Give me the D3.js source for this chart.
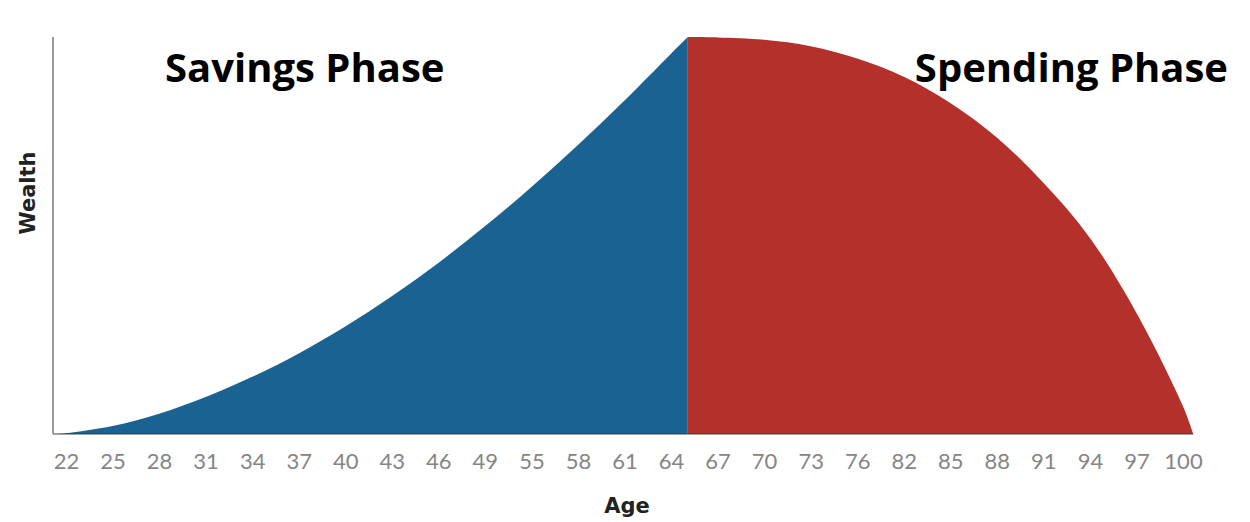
<!DOCTYPE html>
<html>
<head>
<meta charset="utf-8">
<script src="https://cdn.jsdelivr.net/npm/d3@7"></script>
<style>
  body { margin: 0; background: #fff; }
  svg { display: block; }
</style>
</head>
<body>
<svg id="drawing_region"></svg>
<script>
const ageLabels = ["22","25","28","31","34","37","40","43","46","49","55","58","61","64",
                   "67","70","73","76","82","85","88","91","94","97","100"];

// position along the age axis, in tick slots (0 = "22", 24 = "100")
const savingsPos    = [-0.28, 0, 1, 2, 3, 4, 5, 6, 7, 8, 9, 10, 11, 12, 13, 13.36];
const savingsWealth = [0, 0.2, 2.0, 5.1, 9.3, 14.4, 20.3, 27.1, 34.7, 43.1, 52.3, 62.2, 72.8, 84.0, 95.8, 100];

const spendingPos    = [13.36, 14, 15, 16, 17, 18, 19, 20, 21, 22, 23, 24, 24.22];
const spendingWealth = [100, 99.9, 99.3, 97.7, 94.6, 90.0, 83.4, 74.7, 63.3, 49.4, 30.5, 7, 0];

const phaseLabels = ["Savings Phase", "Spending Phase"];

const width = 1250;
const height = 522;
const margin = {top: 37, right: 57, bottom: 88, left: 53};

const svg = d3.select('#drawing_region')
    .attr('width', width)
    .attr('height', height);
const chart = svg.append('g')
    .attr('transform', `translate(${margin.left}, ${margin.top})`);

const inner_width = width - margin.left - margin.right;
const inner_height = height - margin.top - margin.bottom;

// slot scale: tick slot -> pixel
const xscale = d3.scaleLinear()
    .domain([0, ageLabels.length - 1])
    .range([13, 1130]);

const xlabels = d3.scalePoint()
    .domain(ageLabels)
    .range(xscale.range());

const yscale = d3.scaleLinear()
    .domain([0, 100])
    .range([inner_height, 0]);

const area = d3.area()
    .x(d => xscale(d.pos))
    .y0(yscale(0))
    .y1(d => yscale(d.w))
    .curve(d3.curveCatmullRom.alpha(0.5));

const savings = savingsPos.map((p, i) => ({pos: p, w: savingsWealth[i]}));
const spending = spendingPos.map((p, i) => ({pos: p, w: spendingWealth[i]}));

chart.append("path")
    .datum(savings)
    .attr("d", area)
    .attr("fill", "#1a6292");

chart.append("path")
    .datum(spending)
    .attr("d", area)
    .attr("fill", "#b3302b");

// baseline
chart.append("line")
    .attr("x1", 0).attr("x2", xscale(24.22))
    .attr("y1", inner_height).attr("y2", inner_height)
    .attr("stroke", "#333")
    .attr("stroke-opacity", 0.45)
    .attr("stroke-width", 2);

// y axis line
chart.append("line")
    .attr("x1", 0).attr("x2", 0)
    .attr("y1", 0).attr("y2", inner_height)
    .attr("stroke", "#9a9a9a")
    .attr("stroke-width", 2);

// x axis labels
const xaxis = d3.axisBottom(xlabels)
    .tickSize(0)
    .tickPadding(0);

const xaxis_group = chart.append('g')
    .attr('transform', `translate(0, ${inner_height})`)
    .call(xaxis);
xaxis_group.select(".domain").remove();
xaxis_group.selectAll("text")
    .attr("y", 35)
    .attr("dy", 0)
    .attr("fill", "#858585")
    .attr("font-family", "Lato, sans-serif")
    .attr("font-weight", 400)
    .attr("font-size", "22px");

svg.append("text")
    .attr("x", 627)
    .attr("y", 513)
    .attr("text-anchor", "middle")
    .attr("font-family", "DejaVu Sans, sans-serif")
    .attr("font-weight", "bold")
    .attr("font-size", "21px")
    .attr("fill", "#222")
    .text("Age");

svg.append("text")
    .attr("transform", "translate(35, 193) rotate(-90)")
    .attr("text-anchor", "middle")
    .attr("font-family", "DejaVu Sans, sans-serif")
    .attr("font-weight", "bold")
    .attr("font-size", "21px")
    .attr("fill", "#222")
    .text("Wealth");

// phase titles
svg.append("text")
    .attr("x", 165)
    .attr("y", 82)
    .attr("font-family", "Open Sans, sans-serif")
    .attr("font-weight", "bold")
    .attr("font-size", "40px")
    .attr("fill", "#000")
    .text(phaseLabels[0]);

svg.append("text")
    .attr("x", 1228)
    .attr("y", 82)
    .attr("text-anchor", "end")
    .attr("font-family", "Open Sans, sans-serif")
    .attr("font-weight", "bold")
    .attr("font-size", "40px")
    .attr("fill", "#000")
    .text(phaseLabels[1]);
</script>
</body>
</html>
